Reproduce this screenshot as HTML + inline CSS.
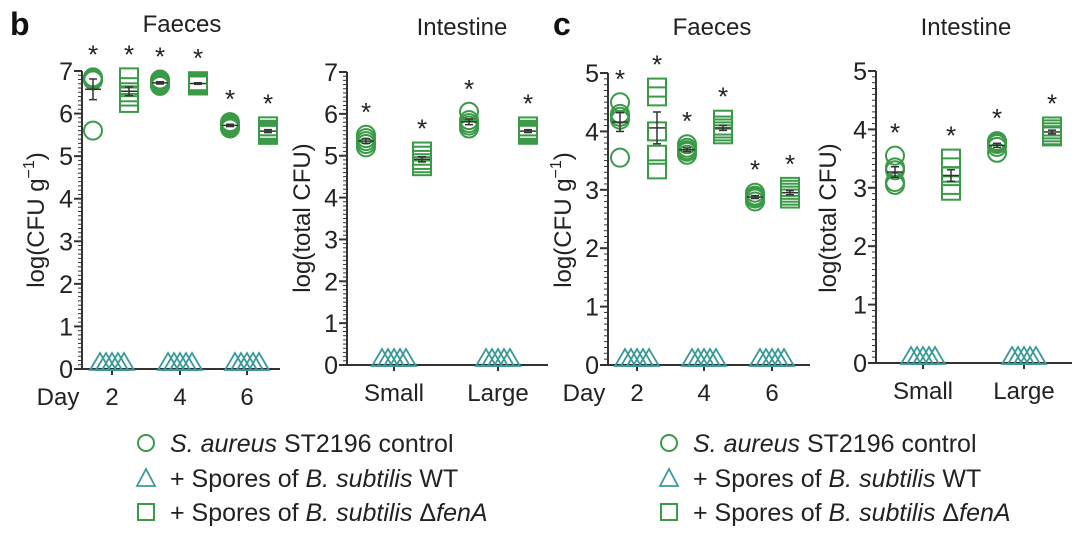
<!DOCTYPE html>
<html><head><meta charset="utf-8">
<style>
html,body{margin:0;padding:0;background:#fff;}
svg{display:block;font-family:"Liberation Sans",Arial,sans-serif;}
</style></head>
<body>
<svg id="fig" width="1080" height="541" viewBox="0 0 1080 541" xmlns="http://www.w3.org/2000/svg">
<text x="10" y="35" font-size="32" font-weight="bold" fill="#111">b</text>
<text x="553" y="35" font-size="32" font-weight="bold" fill="#111">c</text>
<g id="legends"></g>
</svg>
<script>
// ---- data ----
const bFaecesCats = ["2","4","6"];
const bFaecesCircles = [[6.85,6.82,6.8,6.78,5.6],[6.8,6.76,6.72,6.68,6.65],[5.8,5.76,5.72,5.68,5.65]];
const bFaecesSquares = [[6.85,6.62,6.5,6.4,6.25],[6.76,6.73,6.7,6.68,6.66],[5.7,5.62,5.58,5.54,5.5]];
const bIntCats = ["Small","Large"];
const bIntCircles = [[5.5,5.42,5.35,5.28,5.2],[6.05,5.85,5.78,5.72,5.65]];
const bIntSquares = [[5.1,5.0,4.9,4.82,4.75],[5.7,5.62,5.58,5.54,5.5]];
const cFaecesCats = ["2","4","6"];
const cFaecesCircles = [[4.5,4.3,4.25,4.2,3.55],[3.78,3.72,3.68,3.65,3.6],[2.95,2.9,2.88,2.85,2.8]];
const cFaecesSquares = [[4.75,4.6,4.0,3.6,3.35],[4.2,4.1,4.05,4.0,3.95],[3.05,3.0,2.95,2.9,2.85]];
const cIntCats = ["Small","Large"];
const cIntCircles = [[3.55,3.35,3.3,3.1,3.05],[3.8,3.78,3.75,3.7,3.6]];
const cIntSquares = [[3.5,3.35,3.2,3.05,2.95],[4.05,4.0,3.95,3.9,3.88]];
const triangleValues = [0,0,0,0,0];

const G="#3a9a48", T="#3a9a9a", K="#333";
const NS="http://www.w3.org/2000/svg";
const svg=document.getElementById('fig');
function mk(tag,attrs,parent){const e=document.createElementNS(NS,tag);for(const k in attrs)e.setAttribute(k,attrs[k]);(parent||svg).appendChild(e);return e;}

function panel(cfg){
  const g=mk('g',{});
  
  
  const y=v=>cfg.y0+(cfg.y1-cfg.y0)*v/cfg.ymax;
  const ya=mk('line',{x1:cfg.ax,x2:cfg.ax,y1:y(cfg.ymax),y2:y(0),stroke:K,'stroke-width':2},g);
  
  
  const xa=mk('line',{x1:cfg.ax-8,x2:cfg.axEnd,y1:y(0),y2:y(0),stroke:K,'stroke-width':2},g);
  
  
  for(let i=0;i<=cfg.ymax*10;i++){
    const v=i/10, maj=i%10===0;
    mk('line',{x1:cfg.ax-(maj?8:4),x2:cfg.ax,y1:y(v),y2:y(v),stroke:K,'stroke-width':maj?2:1},g);
    if(maj){const t=mk('text',{x:cfg.ax-9,y:y(v)+9,'font-size':25,'text-anchor':'end',fill:'#222'},g);t.textContent=v;
      
      }
  }
  const tt=mk('text',{x:cfg.titleX,y:cfg.titleY,'font-size':24,'text-anchor':'middle',fill:'#222'},g);tt.textContent=cfg.title;
  
  
  const yt=mk('text',{x:0,y:0,'font-size':24,'text-anchor':'middle',fill:'#222',transform:`translate(${cfg.ytX},${cfg.ytY}) rotate(-90)`},g);
  yt.innerHTML=cfg.ytitle;
  
  
  if(cfg.day){const d=mk('text',{x:cfg.ax-24,y:y(0)+36,'font-size':24,'text-anchor':'middle',fill:'#222'},g);d.textContent='Day';
    
    }
  cfg.cats.forEach((c,i)=>{
    const cx=cfg.catX[i];
    mk('line',{x1:cx,x2:cx,y1:y(0),y2:y(0)+6,stroke:K,'stroke-width':2},g);
    const t=mk('text',{x:cx,y:y(0)+36,'font-size':24,'text-anchor':'middle',fill:'#222'},g);t.textContent=c;
    
    
    triangleValues.forEach((v,j)=>{
      const tx=cx+(j-2)*6, ty=y(v);
      const p=mk('polygon',{points:`${tx-10},${ty+1} ${tx+10},${ty+1} ${tx},${ty-16}`,fill:'none',stroke:T,'stroke-width':1.8},g);
      
      
    });
    [[cfg.circles[i],cfg.circX[i],'circle'],[cfg.squares[i],cfg.sqX[i],'square']].forEach(([vals,px,kind])=>{
      vals.forEach(v=>{
        let m;
        if(kind==='circle') m=mk('circle',{cx:px,cy:y(v),r:9,fill:'none',stroke:G,'stroke-width':2},g);
        else m=mk('rect',{x:px-9,y:y(v)-9,width:18,height:18,fill:'none',stroke:G,'stroke-width':2},g);
        
        
      });
      const mean=vals.reduce((a,b)=>a+b,0)/vals.length;
      const sd=Math.sqrt(vals.reduce((a,b)=>a+(b-mean)**2,0)/(vals.length-1))/Math.sqrt(vals.length);
      mk('line',{x1:px,x2:px,y1:y(mean+sd),y2:y(mean-sd),stroke:K,'stroke-width':1.5},g);
      mk('line',{x1:px-4,x2:px+4,y1:y(mean+sd),y2:y(mean+sd),stroke:K,'stroke-width':1.5},g);
      mk('line',{x1:px-4,x2:px+4,y1:y(mean-sd),y2:y(mean-sd),stroke:K,'stroke-width':1.5},g);
      mk('line',{x1:px-8,x2:px+8,y1:y(mean),y2:y(mean),stroke:K,'stroke-width':1.5},g);
      const st=mk('text',{x:px,y:y(Math.max(...vals))-14,'font-size':26,'text-anchor':'middle',fill:'#222'},g);st.textContent='*';
      
      
    });
  });
}
panel({name:'panel-b-faeces',ax:82,axEnd:280,y0:369,y1:71,ymax:7,title:'Faeces',titleX:182,titleY:32,ytitle:'log(CFU g<tspan font-size="16" dy="-10">−1</tspan><tspan dy="10">)</tspan>',ytX:44,ytY:220,day:true,
  cats:bFaecesCats,catX:[112,180,247],circX:[93,160,230],sqX:[129,198,268],circles:bFaecesCircles,squares:bFaecesSquares});
panel({name:'panel-b-intestine',ax:347,axEnd:548,y0:365,y1:72,ymax:7,title:'Intestine',titleX:462,titleY:35,ytitle:'log(total CFU)',ytX:310,ytY:218,day:false,
  cats:bIntCats,catX:[394,498],circX:[366,469],sqX:[422,528],circles:bIntCircles,squares:bIntSquares});
panel({name:'panel-c-faeces',ax:608,axEnd:810,y0:365,y1:73,ymax:5,title:'Faeces',titleX:712,titleY:35,ytitle:'log(CFU g<tspan font-size="16" dy="-10">−1</tspan><tspan dy="10">)</tspan>',ytX:571,ytY:220,day:true,
  cats:cFaecesCats,catX:[637,704,772],circX:[620,687,755],sqX:[657,723,790],circles:cFaecesCircles,squares:cFaecesSquares});
panel({name:'panel-c-intestine',ax:876,axEnd:1072,y0:363,y1:71,ymax:5,title:'Intestine',titleX:966,titleY:35,ytitle:'log(total CFU)',ytX:836,ytY:218,day:false,
  cats:cIntCats,catX:[923,1024],circX:[895,997],sqX:[951,1052],circles:cIntCircles,squares:cIntSquares});

function legend(x0,name){
  const g=mk('g',{},document.getElementById('legends'));
  
  
  const rows=[
    ['circle','<tspan font-style="italic">S. aureus</tspan> ST2196 control',452],
    ['tri','+ Spores of <tspan font-style="italic">B. subtilis</tspan> WT',487],
    ['sq','+ Spores of <tspan font-style="italic">B. subtilis</tspan> Δ<tspan font-style="italic">fenA</tspan>',521]];
  rows.forEach(([k,txt,yy])=>{
    if(k==='circle') mk('circle',{cx:x0,cy:yy-9,r:8,fill:'none',stroke:G,'stroke-width':2},g);
    else if(k==='tri') mk('polygon',{points:`${x0-9},${yy-1} ${x0+9},${yy-1} ${x0},${yy-18}`,fill:'none',stroke:T,'stroke-width':1.8},g);
    else mk('rect',{x:x0-8,y:yy-17,width:16,height:16,fill:'none',stroke:G,'stroke-width':2},g);
    const t=mk('text',{x:x0+24,y:yy,'font-size':25,fill:'#222'},g);t.innerHTML=txt;
    
    
  });
}
legend(146,'legend-b');
legend(669,'legend-c');
</script>
</body></html>
